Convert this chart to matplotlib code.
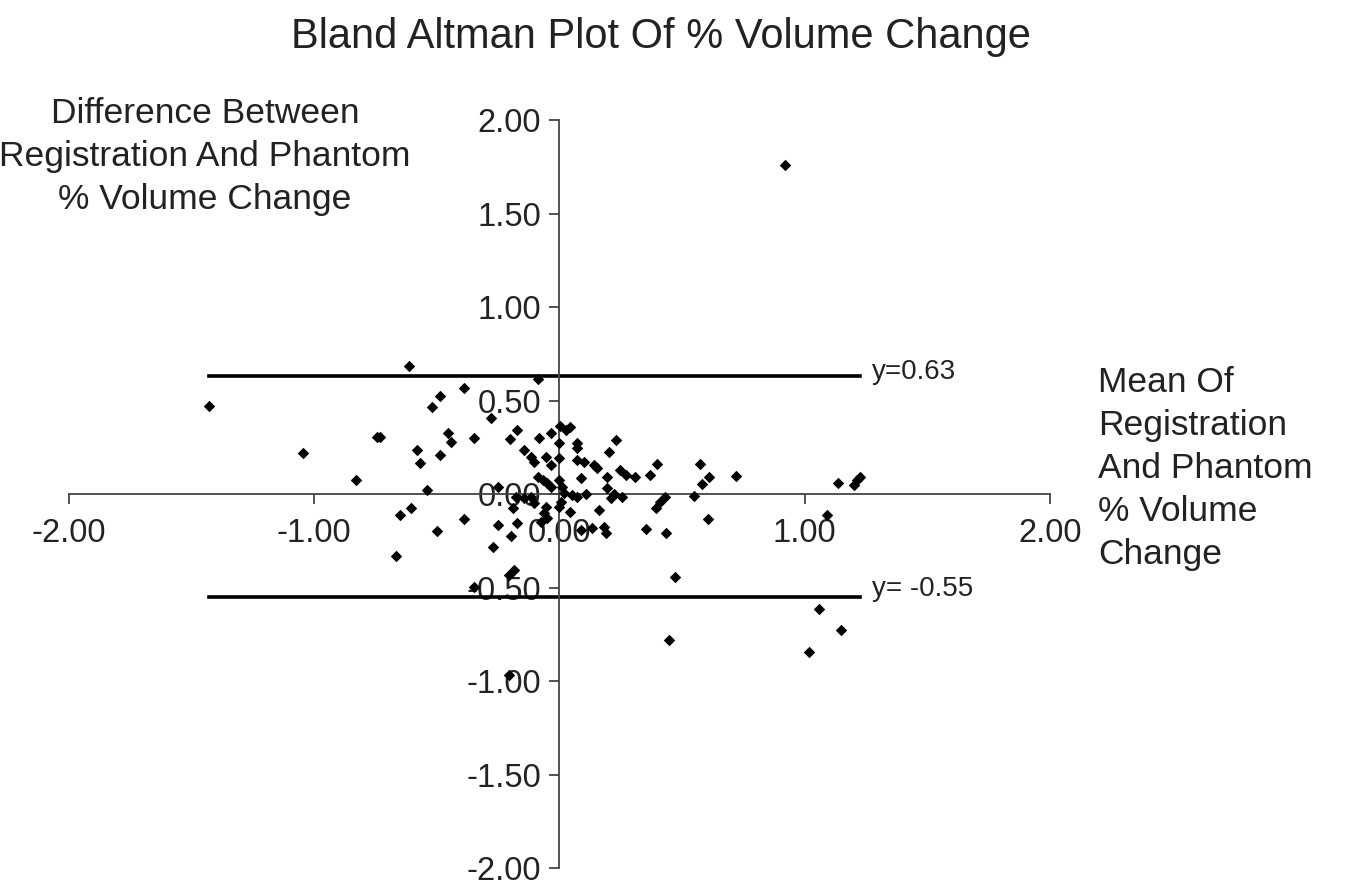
import matplotlib.pyplot as plt
import numpy as np

plt.rcParams['font.family'] = ['Liberation Sans', 'DejaVu Sans']

# mean of registration and phantom % volume change
mean_vals = [
    -1.427, -1.045, -0.743, -0.828, -0.615, -0.089, -0.390, -0.489, -0.520, -0.279,
    -0.455, -0.444, -0.347, -0.580, -0.570, -0.489, -0.539, -0.652, -0.607, -0.665,
    -0.499, -0.390, -0.272, -0.249, -0.198, -0.174, -0.191, -0.252, -0.200, -0.171,
    -0.083, -0.035, 0.003, 0.026, 0.043, 0.000, -0.143, -0.117, -0.103, -0.056,
    -0.035, 0.000, 0.073, 0.073, 0.229, 0.202, 0.073, 0.100, 0.141, 0.154,
    0.192, 0.247, 0.270, 0.310, 0.371, 0.398, 0.089, -0.089, -0.069, -0.049,
    -0.035, 0.000, 0.012, 0.019, 0.053, 0.073, 0.107, 0.195, 0.222, 0.256,
    0.209, 0.161, 0.043, 0.000, 0.005, -0.062, -0.049, -0.076, -0.056, -0.117,
    -0.143, -0.103, -0.178, 0.087, 0.134, 0.182, 0.188, 0.351, 0.436, 0.392,
    0.412, 0.432, 0.473, -0.184, -0.204, -0.347, -0.207, 0.448, 0.572, 0.608,
    0.581, 0.721, 1.137, 1.200, 1.214, 1.225, 0.547, 0.604, 1.090, 1.060,
    1.150, 1.017, 0.920, -0.733,
]
# difference between registration and phantom % volume change
diff_vals = [
    0.472, 0.218, 0.303, 0.075, 0.684, 0.613, 0.565, 0.524, 0.467, 0.405,
    0.324, 0.280, 0.298, 0.235, 0.168, 0.209, 0.021, -0.112, -0.077, -0.332,
    -0.198, -0.135, -0.285, -0.166, -0.225, -0.153, -0.077, 0.039, 0.296, 0.342,
    0.298, 0.324, 0.364, 0.342, 0.360, 0.271, 0.235, 0.200, 0.173, 0.200,
    0.155, 0.191, 0.271, 0.244, 0.289, 0.226, 0.182, 0.173, 0.155, 0.137,
    0.093, 0.128, 0.100, 0.093, 0.100, 0.160, 0.084, 0.093, 0.075, 0.057,
    0.039, 0.075, 0.039, 0.004, -0.005, -0.014, 0.000, 0.030, 0.000, -0.014,
    -0.023, -0.086, -0.095, -0.068, -0.041, -0.103, -0.130, -0.148, -0.068, -0.014,
    -0.023, -0.050, -0.014, -0.193, -0.183, -0.175, -0.210, -0.189, -0.207, -0.077,
    -0.041, -0.014, -0.442, -0.406, -0.433, -0.496, -0.968, -0.780, 0.160, 0.093,
    0.053, 0.096, 0.057, 0.048, 0.075, 0.093, -0.011, -0.135, -0.112, -0.617,
    -0.727, -0.847, 1.760, 0.306,
]
upper_limit = 0.63
lower_limit = -0.55
limit_labels = ['y=0.63', 'y= -0.55']

fig = plt.figure(figsize=(13.49, 8.91), dpi=100)
ax = fig.add_axes([0.0511, 0.0258, 0.7272, 0.8395])

x = np.array(mean_vals)
y = np.array(diff_vals)
ax.scatter(x, y, marker='D', s=34, color='black', zorder=3, linewidths=0)

xmin, xmax = x.min(), x.max()
ax.plot([xmin, xmax], [upper_limit, upper_limit], color='black', lw=2.6)
ax.plot([xmin, xmax], [lower_limit, lower_limit], color='black', lw=2.6)
ax.text(xmax + 0.05, upper_limit + 0.02, limit_labels[0], fontsize=20, va='center',
        color='#222222')
ax.text(xmax + 0.05, lower_limit + 0.04, limit_labels[1], fontsize=20, va='center',
        color='#222222')

ax.set_xlim(-2, 2)
ax.set_ylim(-2, 2)
ax.spines['left'].set_position(('data', 0))
ax.spines['bottom'].set_position(('data', 0))
ax.spines['top'].set_visible(False)
ax.spines['right'].set_visible(False)
for s in ['left', 'bottom']:
    ax.spines[s].set_color('#444444')
    ax.spines[s].set_linewidth(1.3)

ax.set_xticks([-2, -1, 0, 1, 2])
ax.set_yticks(np.arange(-2, 2.01, 0.5))
ax.xaxis.set_major_formatter(plt.FormatStrFormatter('%.2f'))
ax.yaxis.set_major_formatter(plt.FormatStrFormatter('%.2f'))
ax.tick_params(direction='out', length=7, width=1.3, color='#444444',
               labelsize=23.5, labelcolor='#222222', pad=6)
ax.tick_params(axis='x', pad=10)

fig.text(0.49, 0.958, 'Bland Altman Plot Of % Volume Change', ha='center', va='center',
         fontsize=30, color='#222222')
fig.text(0.152, 0.824, 'Difference Between\nRegistration And Phantom\n% Volume Change',
         ha='center', va='center', fontsize=25.5, color='#222222', linespacing=1.38)
fig.text(0.814, 0.474, 'Mean Of\nRegistration\nAnd Phantom\n% Volume\nChange',
         ha='left', va='center', fontsize=25.5, color='#222222', linespacing=1.38)

fig.savefig('out.png', dpi=100, facecolor='white')
